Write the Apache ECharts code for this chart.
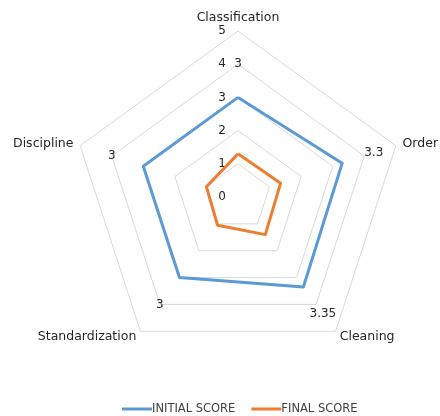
<!DOCTYPE html>
<html>
<head>
    <meta charset="utf-8">
    <script src="https://cdn.jsdelivr.net/npm/echarts@6/dist/echarts.min.js"></script>
    <style>
        html, body { margin: 0; padding: 0; background: #fff; }
    </style>
</head>
<body>
<div id="main" style="width: 440px;height:416px;"></div>

<script type="text/javascript">

    // 指标 (顺时针)
    var categories = ['Classification', 'Order', 'Cleaning', 'Standardization', 'Discipline'];
    var tickLabels = ['0', '1', '2', '3', '4', '5'];
    // 分数
    var initialScore = [3, 3.3, 3.35, 3, 3];
    var finalScore = [1.3, 1.35, 1.4, 1.05, 1.0];

    // echarts 雷达图是逆时针的，这里把顺序倒过来
    var order = [0, 4, 3, 2, 1];
    function reorder(arr) {
        var out = [];
        for (var i = 0; i < order.length; i++) {
            out.push(arr[order[i]]);
        }
        return out;
    }

    var indicator = [];
    var cats = reorder(categories);
    for (var i = 0; i < cats.length; i++) {
        var ind = {name: cats[i], min: 0, max: 5};
        if (i == 0) {
            ind.axisLabel = {show: true};
        }
        indicator.push(ind);
    }

    var initialData = reorder(initialScore);
    var finalData = reorder(finalScore);

    // 标签放在点外侧一格
    var labelPos = [];
    for (var i = 0; i < initialData.length; i++) {
        labelPos[i] = initialData[i] + 1;
    }

    var myChart = echarts.init(document.getElementById('main'));

    var option = {
        animation: false,
        textStyle: {fontFamily: 'DejaVu Sans'},
        legend: {
            top: 398,
            left: 117,
            itemWidth: 30,
            itemHeight: 3,
            itemGap: 16,
            icon: 'rect',
            textStyle: {fontSize: 11.5, color: '#404040', padding: [0, 0, 0, -5]},
            data: ['INITIAL SCORE', 'FINAL SCORE']
        },
        radar: {
            center: [238, 197],
            radius: 166,
            startAngle: 90,
            splitNumber: 5,
            shape: 'polygon',
            nameGap: 7,
            axisName: {color: '#262626', fontSize: 12.5},
            axisLine: {show: false},
            axisTick: {show: false},
            axisLabel: {
                show: false,
                color: '#262626',
                fontSize: 12,
                margin: 12,
                formatter: function (v) {
                    return tickLabels[Math.round(v)];
                }
            },
            splitLine: {lineStyle: {color: '#d9d9d9', width: 1}},
            splitArea: {show: false},
            indicator: indicator
        },
        series: [
            {
                name: 'INITIAL SCORE',
                type: 'radar',
                symbol: 'none',
                color: '#5b9bd5',
                lineStyle: {color: '#5b9bd5', width: 3},
                data: [{value: initialData, name: 'INITIAL SCORE'}]
            },
            {
                name: 'FINAL SCORE',
                type: 'radar',
                symbol: 'none',
                color: '#ed7d31',
                lineStyle: {color: '#ed7d31', width: 3},
                data: [{value: finalData, name: 'FINAL SCORE'}]
            },
            {
                name: 'labels',
                type: 'radar',
                symbol: 'circle',
                symbolSize: 1,
                silent: true,
                itemStyle: {color: 'transparent'},
                lineStyle: {width: 0, opacity: 0},
                label: {
                    show: true,
                    position: 'inside',
                    color: '#262626',
                    fontSize: 12,
                    formatter: function (p) {
                        return String(initialData[p.dimensionIndex]);
                    }
                },
                data: [{value: labelPos, name: 'labels'}]
            }
        ]
    };
    myChart.setOption(option);

</script>
</body>
</html>
